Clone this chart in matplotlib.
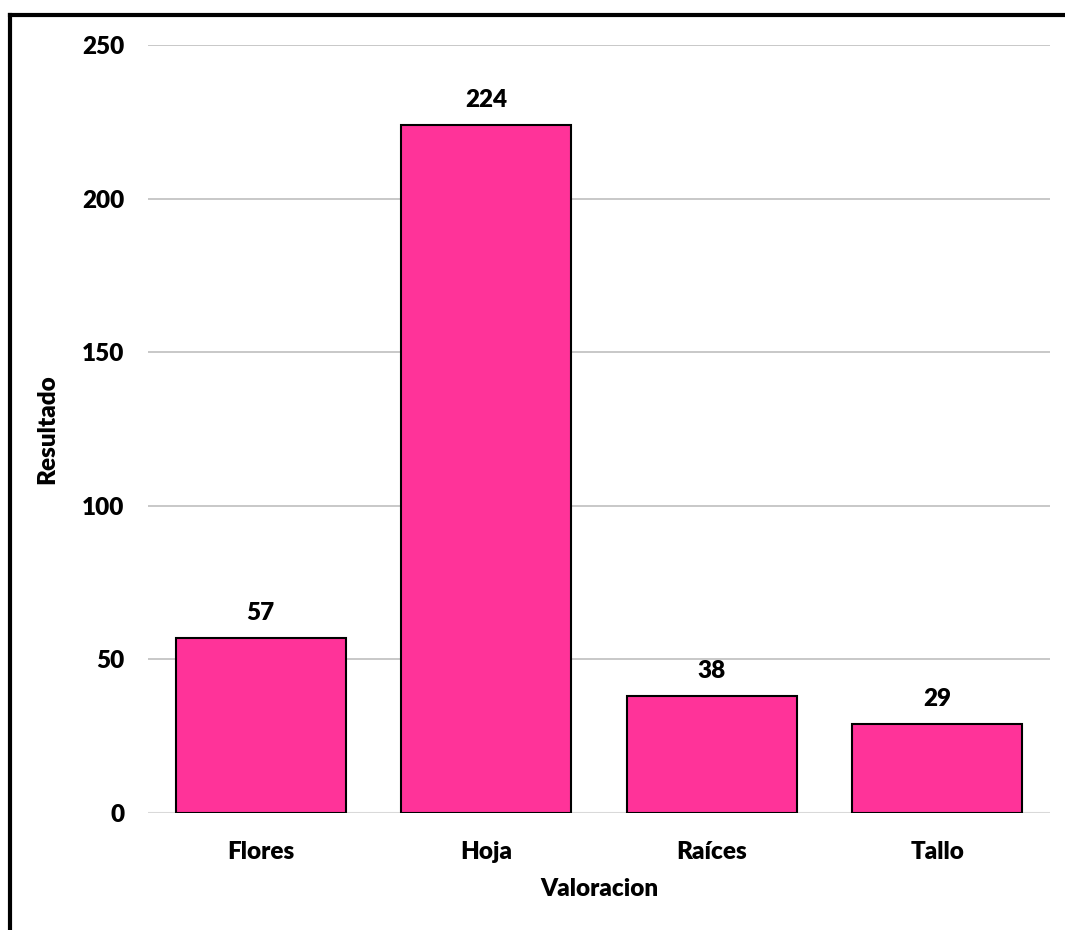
import matplotlib
matplotlib.use("Agg")
import matplotlib.pyplot as plt
from matplotlib.lines import Line2D

categories = ["Flores", "Hoja", "Raíces", "Tallo"]
resultado = [57, 224, 38, 29]
yticks = [0, 50, 100, 150, 200, 250]

plt.rcParams["font.family"] = ["Lato", "DejaVu Sans"]
plt.rcParams["font.weight"] = "heavy"
fsize = 17.5

fig = plt.figure(figsize=(10.65, 9.3), dpi=100)
ax = fig.add_axes([0.139, 0.1258, 0.847, 0.8258])

x = range(len(categories))
bars = ax.bar(x, resultado, width=0.755, color="#FF3399", edgecolor="black",
              linewidth=1.5, zorder=3)

for b, v in zip(bars, resultado):
    ax.annotate(str(v), (b.get_x() + b.get_width() / 2, v), xytext=(0, 10),
                textcoords="offset points", ha="center", va="bottom",
                fontsize=fsize, fontweight="heavy")

ax.set_xlim(-0.5, len(categories) - 0.5)
ax.set_ylim(0, 250)
ax.set_yticks(yticks)
ax.set_xticks(list(x))
ax.set_xticklabels(categories)
ax.tick_params(axis="both", length=0, labelsize=fsize)
ax.tick_params(axis="y", pad=17)
ax.tick_params(axis="x", pad=20)
ax.yaxis.grid(True, color="#BFBFBF", linewidth=1.2, zorder=0)
for s in ax.spines.values():
    s.set_visible(False)
ax.axhline(0, color="#D9D9D9", linewidth=1.5, zorder=2)

ax.set_xlabel("Valoracion", fontsize=fsize, fontweight="heavy", labelpad=11)
ax.set_ylabel("Resultado", fontsize=fsize, fontweight="heavy", labelpad=17)

# outer chart frame (top and left edges)
fig.add_artist(Line2D([0.0095, 1.0], [0.984, 0.984], color="black", linewidth=3,
                      transform=fig.transFigure))
fig.add_artist(Line2D([0.0095, 0.0095], [0.0, 0.984], color="black", linewidth=3,
                      transform=fig.transFigure))

fig.savefig("out.png", dpi=100)
